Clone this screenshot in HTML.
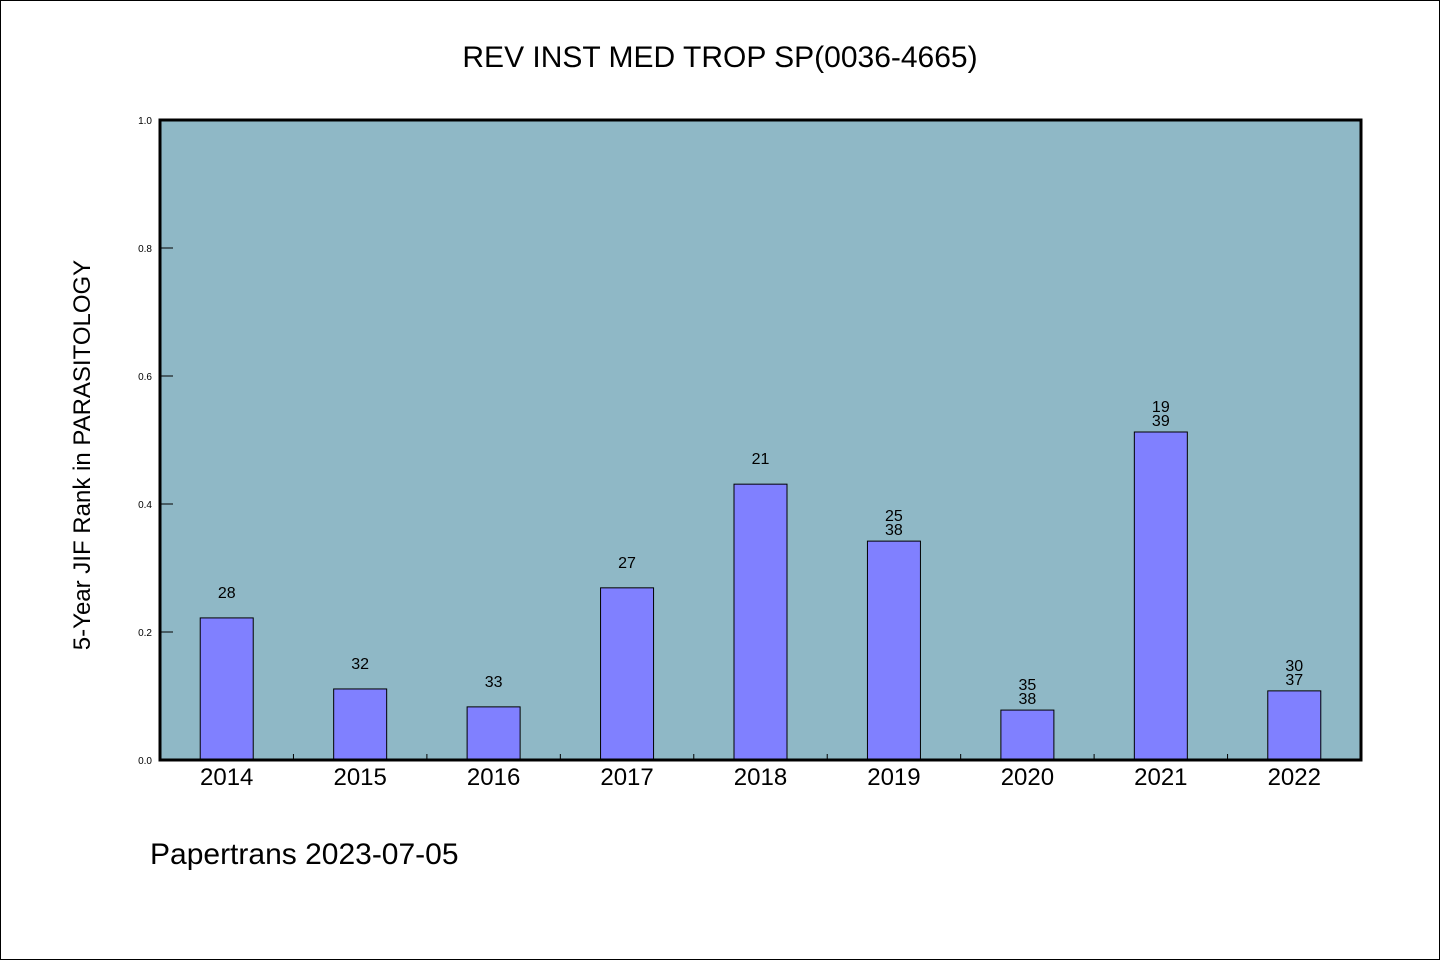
<!DOCTYPE html>
<html><head><meta charset="utf-8"><style>body{margin:0;background:#fff}svg text{font-family:"WenQuanYi Zen Hei","Liberation Sans",sans-serif}</style></head>
<body>
<svg width="1440" height="960" viewBox="0 0 1440 960">
<rect x="0.5" y="0.5" width="1439" height="959" fill="#fff" stroke="#000"/>
<text x="720" y="67" font-size="30" text-anchor="middle">REV INST MED TROP SP(0036-4665)</text>
<rect x="160" y="120" width="1201" height="640" fill="#8fb8c6"/>
<g id="bars"></g>
<rect x="160" y="120" width="1201" height="640" fill="none" stroke="#000" stroke-width="3"/>
<text transform="translate(90,455) rotate(-90)" font-size="24" text-anchor="middle">5-Year JIF Rank in PARASITOLOGY</text>
<text x="150" y="864" font-size="30">Papertrans 2023-07-05</text>
</svg>
<script>
const categories=["2014","2015","2016","2017","2018","2019","2020","2021","2022"];
const values=[0.222,0.111,0.083,0.269,0.431,0.342,0.078,0.5125,0.108];
const labelTop=["28","32","33","27","21","25","35","19","30"];
const labelBottom=["","","","","","38","38","39","37"];
const yTicks=[0,0.2,0.4,0.6,0.8,1.0];
const NS="http://www.w3.org/2000/svg";
const x0=160,x1=1361,y0=760,y1=120;
const step=(x1-x0)/categories.length;
const ys=v=>y0-(y0-y1)*v;
const xc=i=>x0+step*(i+0.5);
const g=document.getElementById('bars');
function mk(t,a){const e=document.createElementNS(NS,t);for(const k in a)e.setAttribute(k,a[k]);g.appendChild(e);return e;}
yTicks.forEach(t=>{
 const l=mk('line',{x1:x0,x2:x0+13,y1:ys(t),y2:ys(t),stroke:'#000','stroke-width':1});
 
 
 const tx=mk('text',{x:152,y:ys(t)+4,'font-size':10,'text-anchor':'end'});
 tx.textContent=t.toFixed(1);
 
 
});
categories.forEach((c,i)=>{
 if(i>0){const l=mk('line',{x1:x0+step*i,x2:x0+step*i,y1:y0,y2:y0-6,stroke:'#000'});
 
 }
 const top=ys(values[i]);
 const r=mk('rect',{x:xc(i)-26.5,y:top,width:53,height:y0-top,fill:'#8080ff',stroke:'#000','stroke-width':1});
 
 
 const xl=mk('text',{x:xc(i),y:785,'font-size':24,'text-anchor':'middle'});
 xl.textContent=c;
 
 
 const two=labelBottom[i]!=="";
 const t1=mk('text',{x:xc(i),y:two?top-20:top-20,'font-size':16,'text-anchor':'middle'});
 t1.textContent=labelTop[i];
 
 
 if(two){const t2=mk('text',{x:xc(i),y:top-6,'font-size':16,'text-anchor':'middle'});
 t2.textContent=labelBottom[i];
 
 }
});
</script>
</body></html>
